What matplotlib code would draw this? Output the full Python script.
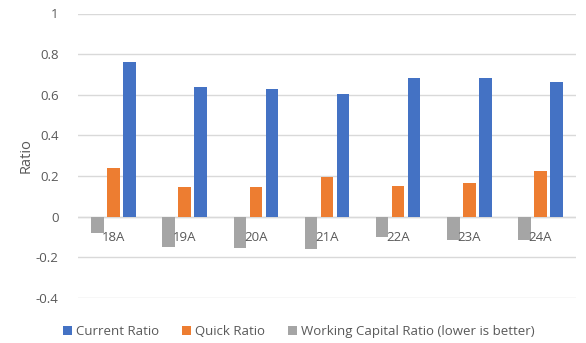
import matplotlib
matplotlib.use("Agg")
import matplotlib.pyplot as plt
import numpy as np

categories = ["18A", "19A", "20A", "21A", "22A", "23A", "24A"]
current_ratio = [0.762, 0.639, 0.629, 0.603, 0.683, 0.683, 0.663]
quick_ratio = [0.241, 0.147, 0.147, 0.197, 0.152, 0.167, 0.226]
wc_ratio = [-0.082, -0.147, -0.152, -0.161, -0.102, -0.116, -0.116]
yticks = [-0.4, -0.2, 0, 0.2, 0.4, 0.6, 0.8, 1]
ytick_labels = ["-0.4", "-0.2", "0", "0.2", "0.4", "0.6", "0.8", "1"]

plt.rcParams['font.family'] = ['Open Sans', 'DejaVu Sans']
txt = '#595959'

fig = plt.figure(figsize=(5.86, 3.43), dpi=100)
ax = fig.add_axes([78/586, 1-298/343, (576-78)/586, (298-13.5)/343])

x = np.arange(len(categories))
w = 0.176
off = 0.225
ax.bar(x + off, current_ratio, w, color='#4472C4', label='Current Ratio', zorder=3)
ax.bar(x, quick_ratio, w, color='#ED7D31', label='Quick Ratio', zorder=3)
ax.bar(x - off, wc_ratio, w, color='#A5A5A5', label='Working Capital Ratio (lower is better)', zorder=3)

ax.set_xlim(-0.5, len(categories) - 0.5)
ax.set_ylim(-0.4, 1)
ax.set_yticks(yticks)
ax.set_yticklabels(ytick_labels)
ax.yaxis.grid(True, color='#D9D9D9', linewidth=1, zorder=0)
ax.axhline(0, color='#D9D9D9', linewidth=1, zorder=1)
for s in ax.spines.values():
    s.set_visible(False)
ax.tick_params(axis='y', length=0, pad=14, labelsize=9.5, labelcolor=txt)
ax.tick_params(axis='x', length=0, labelsize=9.5, labelcolor=txt)
ax.set_xticks(x)
ax.set_xticklabels([])
for xi, c in zip(x, categories):
    ax.text(xi, -0.1, c, ha='center', va='center', fontsize=9.5, color=txt, zorder=4)

ax.set_ylabel('Ratio', fontsize=10.5, color=txt)
ax.yaxis.set_label_coords(-0.090, 0.5)

fig.legend(loc='lower center', ncol=3, frameon=False, fontsize=9.5,
           bbox_to_anchor=(0.51, -0.02), handlelength=0.7, handleheight=0.7,
           handletextpad=0.3, columnspacing=1.7, labelcolor=txt)

fig.savefig('out.png', dpi=100)
